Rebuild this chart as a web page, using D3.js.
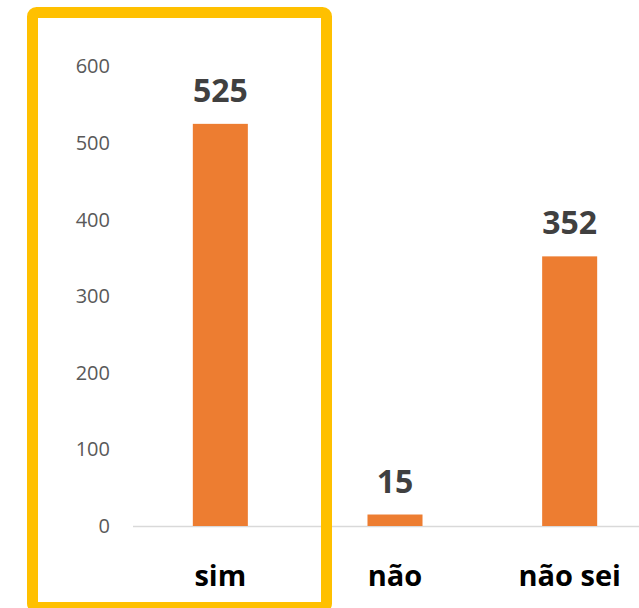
<!DOCTYPE html>
<html>
<head>
<meta charset="utf-8">
<style>
    body { margin: 0; background: #fff; }
    .tick-label { font: 20px "Open Sans", sans-serif; fill: #595959; text-anchor: end; }
    .value-label { font: bold 32px "Open Sans", sans-serif; fill: #404040; text-anchor: middle; }
    .cat-label { font: bold 29px "Open Sans", sans-serif; fill: #000; text-anchor: middle; }
</style>
</head>
<body>
<svg id="chart" width="639" height="608"></svg>
<script src="https://d3js.org/d3.v7.min.js"></script>
<script>
    var categories = ["sim", "não", "não sei"];
    var values = [525, 15, 352];
    var yTicks = [0, 100, 200, 300, 400, 500, 600];

    var svg = d3.select("#chart");

    var x = d3.scaleBand()
        .domain(categories)
        .range([133, 657])
        .paddingInner(0.685)
        .paddingOuter(0.3425);

    var y = d3.scaleLinear()
        .domain([0, 600])
        .range([526, 66.4]);

    // tick labels (no gridlines)
    svg.selectAll(".tick-label")
        .data(yTicks)
        .enter().append("text")
        .attr("class", "tick-label")
        .attr("x", 110)
        .attr("y", function (d) { return y(d); })
        .attr("dy", "0.35em")
        .text(function (d) { return d; });

    // baseline
    svg.append("line")
        .attr("x1", 133).attr("x2", 639)
        .attr("y1", y(0) + 0.5).attr("y2", y(0) + 0.5)
        .attr("stroke", "#d9d9d9")
        .attr("stroke-width", 1.5);

    var data = categories.map(function (c, i) { return {cat: c, value: values[i]}; });

    svg.selectAll(".bar")
        .data(data)
        .enter().append("rect")
        .attr("class", "bar")
        .attr("x", function (d) { return x(d.cat); })
        .attr("width", x.bandwidth())
        .attr("y", function (d) { return y(d.value); })
        .attr("height", function (d) { return y(0) - y(d.value); })
        .attr("fill", "#ED7D31");

    svg.selectAll(".value-label")
        .data(data)
        .enter().append("text")
        .attr("class", "value-label")
        .attr("x", function (d) { return x(d.cat) + x.bandwidth() / 2; })
        .attr("y", function (d) { return y(d.value) - 22; })
        .text(function (d) { return d.value; });

    svg.selectAll(".cat-label")
        .data(data)
        .enter().append("text")
        .attr("class", "cat-label")
        .attr("x", function (d) { return x(d.cat) + x.bandwidth() / 2; })
        .attr("y", 586)
        .text(function (d) { return d.cat; });

    // highlight box round "sim"
    svg.append("rect")
        .attr("x", 32.5).attr("y", 12.5)
        .attr("width", 294).attr("height", 595)
        .attr("rx", 4)
        .attr("fill", "none")
        .attr("stroke", "#FFC000")
        .attr("stroke-width", 11);
</script>
</body>
</html>
